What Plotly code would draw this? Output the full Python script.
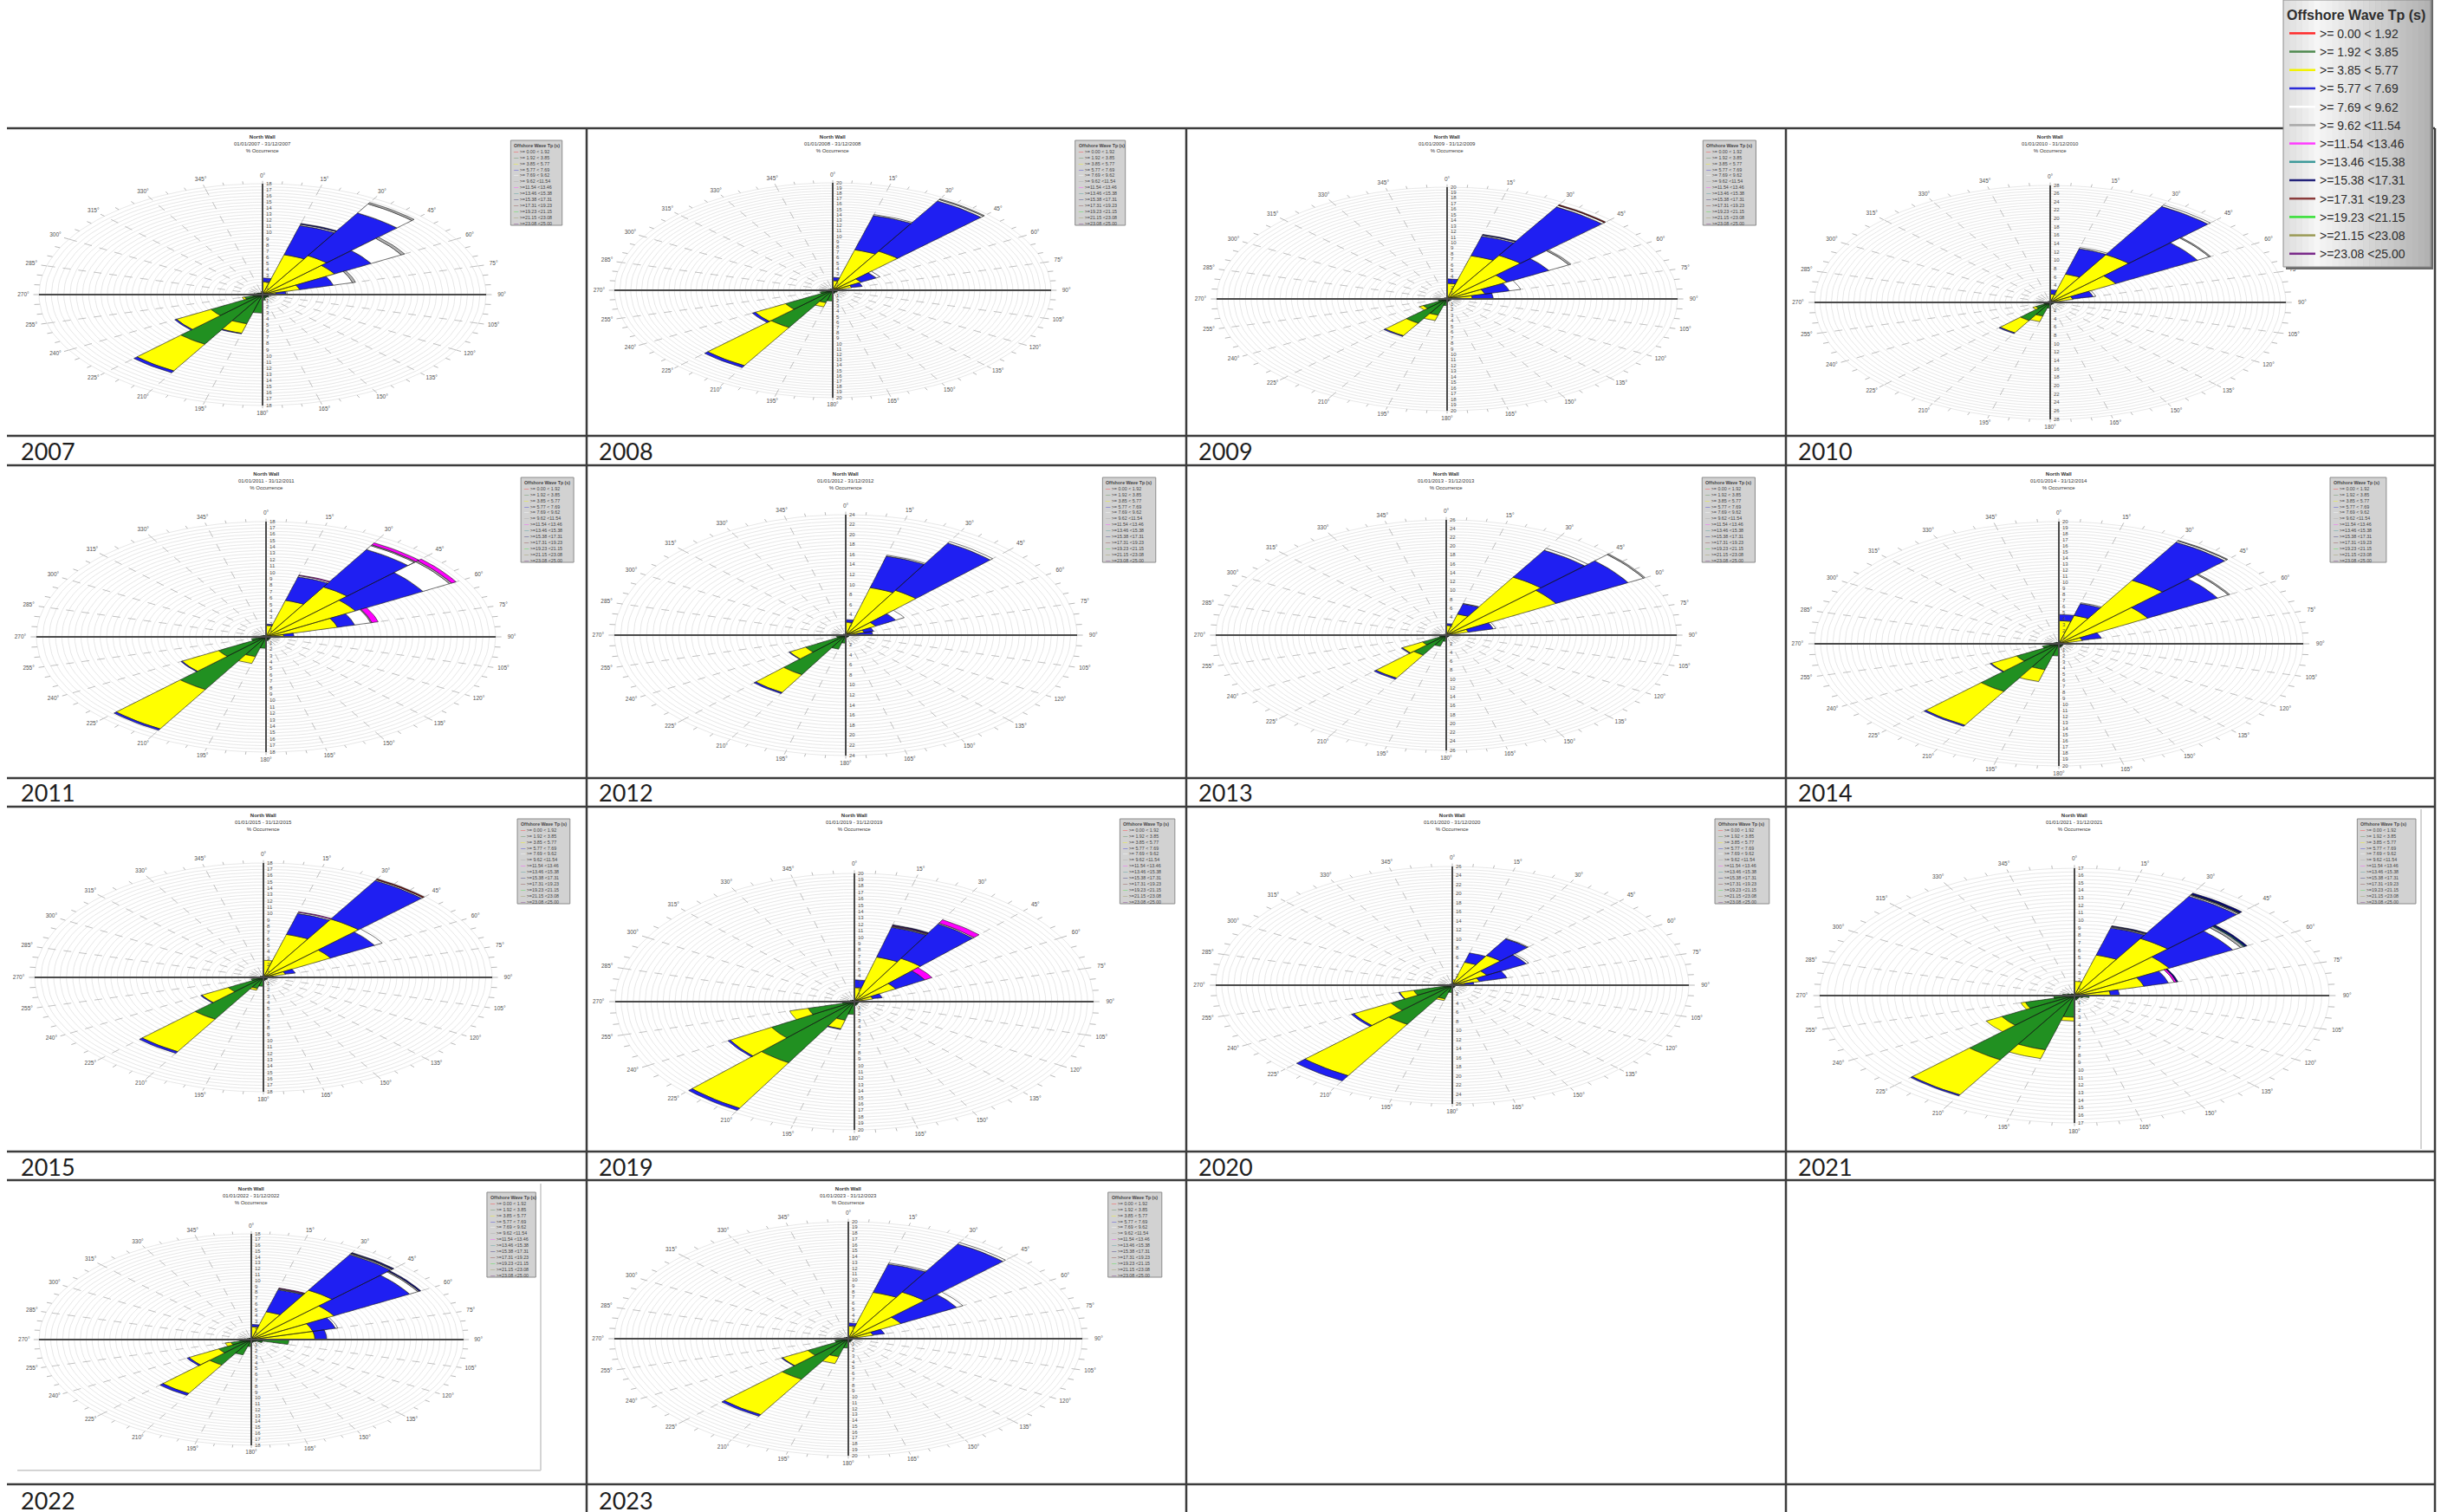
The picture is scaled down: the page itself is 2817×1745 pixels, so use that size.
import numpy as np
import plotly.graph_objects as go

W, H = 2817, 1745

# ---------------------------------------------------------------- Tp classes
TP_LABELS = [">= 0.00 &lt; 1.92", ">= 1.92 &lt; 3.85", ">= 3.85 &lt; 5.77", ">= 5.77 &lt; 7.69",
             ">= 7.69 &lt; 9.62", ">= 9.62 &lt;11.54", ">=11.54 &lt;13.46", ">=13.46 &lt;15.38",
             ">=15.38 &lt;17.31", ">=17.31 &lt;19.23", ">=19.23 &lt;21.15", ">=21.15 &lt;23.08",
             ">=23.08 &lt;25.00"]
TP_LINE = ["#ff2a2a", "#4f8a4f", "#f2f200", "#2a2ad8", "#ffffff", "#a8a8a8", "#ff3cff",
           "#3d9a9a", "#23237a", "#8a3c3c", "#35e035", "#9a9a55", "#7a2a8a"]
TP_FILL = ["#ff0000", "#219021", "#ffff00", "#1f1ff2", "#ffffff", "#b4b4b4", "#ff00ff",
           "#008080", "#000080", "#800000", "#00ff00", "#808000", "#800080"]

# 24 direction sectors (deg from north), 15 deg wide
SECTORS = [7.5 + 15 * k for k in range(24)]

# ---------------------------------------------------------------- % occurrence per sector, by Tp class index
ROSE_2007 = {
    1: [.3, .3, .3, .3, .2, .2, .4, .5, .6, .5, .6, .9, 3.0, 4.9, 9.3, 4.8, 1.5, .8, .7, .5, .4, .3, .3, .3],
    2: [1.8, 6.4, 7.0, 6.4, 2.9, .9, .3, 0, 0, 0, 0, 0, 0, 1.6, 5.0, 3.2, .2, 0, 0, 0, 0, 0, 0, .2],
    3: [.6, 4.9, 8.0, 3.4, 2.8, .8, 0, 0, 0, 0, 0, 0, 0, .1, .35, .15, 0, 0, 0, 0, 0, 0, 0, 0],
    4: [0, .2, 1.7, 2.8, 1.6, .1, 0, 0, 0, 0, 0, 0, 0, 0, 0, 0, 0, 0, 0, 0, 0, 0, 0, 0],
    5: [0, 0, .25, .3, .25, 0, 0, 0, 0, 0, 0, 0, 0, 0, 0, 0, 0, 0, 0, 0, 0, 0, 0, 0],
    8: [0, .15, 0, 0, 0, 0, 0, 0, 0, 0, 0, 0, 0, 0, 0, 0, 0, 0, 0, 0, 0, 0, 0, 0],
}
ROSE_2008 = {
    1: [.2, .2, .2, .2, .2, .2, .3, .4, .5, .4, .5, .6, 2.0, 2.4, 8.0, 5.0, 1.2, .6, .5, .4, .3, .3, .2, .2],
    2: [1.6, 7.6, 8.2, 2.8, 1.6, .5, 0, 0, 0, 0, 0, 0, 0, .8, 8.2, 3.2, 0, 0, 0, 0, 0, 0, 0, 0],
    3: [.6, 6.6, 10.8, 1.6, 1.0, 0, 0, 0, 0, 0, 0, 0, 0, 0, .4, .3, 0, 0, 0, 0, 0, 0, 0, 0],
    4: [0, .2, .3, .4, 0, 0, 0, 0, 0, 0, 0, 0, 0, 0, 0, 0, 0, 0, 0, 0, 0, 0, 0, 0],
    5: [0, 0, .15, 0, 0, 0, 0, 0, 0, 0, 0, 0, 0, 0, 0, 0, 0, 0, 0, 0, 0, 0, 0, 0],
}
ROSE_2009 = {
    1: [.2, .2, .2, .2, .2, .2, .3, .3, .4, .3, .4, .5, 1.2, 3.0, 5.0, 2.4, .8, .5, .4, .3, .3, .2, .2, .2],
    2: [2.6, 7.8, 8.8, 5.8, 3.2, 2.0, 0, 0, 0, 0, 0, 0, 0, 1.0, 2.6, .4, 0, 0, 0, 0, 0, 0, 0, 0],
    3: [.8, 3.6, 10.0, 4.2, 2.2, 1.8, 0, 0, 0, 0, 0, 0, 0, 0, .15, 0, 0, 0, 0, 0, 0, 0, 0, 0],
    4: [0, .2, .3, 2.0, 1.0, 0, 0, 0, 0, 0, 0, 0, 0, 0, 0, 0, 0, 0, 0, 0, 0, 0, 0, 0],
    5: [0, 0, 0, .2, 0, 0, 0, 0, 0, 0, 0, 0, 0, 0, 0, 0, 0, 0, 0, 0, 0, 0, 0, 0],
    8: [0, .15, 0, 0, 0, 0, 0, 0, 0, 0, 0, 0, 0, 0, 0, 0, 0, 0, 0, 0, 0, 0, 0, 0],
    9: [0, 0, .15, 0, 0, 0, 0, 0, 0, 0, 0, 0, 0, 0, 0, 0, 0, 0, 0, 0, 0, 0, 0, 0],
}
ROSE_2010 = {
    1: [.2, .3, .3, .3, .2, .3, .4, .4, .5, .4, .5, .6, 1.4, 3.4, 5.0, 2.0, .8, .5, .4, .4, .3, .3, .2, .2],
    2: [1.8, 6.7, 12.9, 8.7, 2.6, .6, 0, 0, 0, 0, 0, 0, 0, 1.4, 3.4, .4, 0, 0, 0, 0, 0, 0, 0, 0],
    3: [1.0, 6.3, 13.3, 11.2, 2.5, 0, 0, 0, 0, 0, 0, 0, 0, 0, .2, 0, 0, 0, 0, 0, 0, 0, 0, 0],
    4: [0, .3, .4, 1.6, .3, 0, 0, 0, 0, 0, 0, 0, 0, 0, 0, 0, 0, 0, 0, 0, 0, 0, 0, 0],
    5: [0, 0, 0, .2, 0, 0, 0, 0, 0, 0, 0, 0, 0, 0, 0, 0, 0, 0, 0, 0, 0, 0, 0, 0],
}
ROSE_2011 = {
    1: [.2, .2, .2, .2, .2, .2, .3, .4, .4, .4, .5, .6, 1.8, 3.2, 9.5, 4.3, 1.2, .6, .5, .4, .3, .3, .2, .2],
    2: [1.6, 5.7, 8.8, 7.9, 5.6, 1.2, 0, 0, 0, 0, 0, 0, 0, 1.1, 7.1, 3.3, 0, 0, 0, 0, 0, 0, 0, 0],
    3: [.2, 3.8, 6.75, 6.1, 1.4, .8, 0, 0, 0, 0, 0, 0, 0, 0, .25, .1, 0, 0, 0, 0, 0, 0, 0, 0],
    4: [0, .2, .7, 2.4, 1.3, 0, 0, 0, 0, 0, 0, 0, 0, 0, 0, 0, 0, 0, 0, 0, 0, 0, 0, 0],
    5: [0, 0, .15, .2, .1, 0, 0, 0, 0, 0, 0, 0, 0, 0, 0, 0, 0, 0, 0, 0, 0, 0, 0, 0],
    6: [0, .1, .35, .4, .5, 0, 0, 0, 0, 0, 0, 0, 0, 0, 0, 0, 0, 0, 0, 0, 0, 0, 0, 0],
}
ROSE_2012 = {
    1: [.2, .2, .2, .2, .2, .2, .3, .3, .4, .4, .4, .5, 1.6, 2.9, 9.1, 4.8, 1.0, .5, .4, .3, .3, .2, .2, .2],
    2: [2.4, 9.6, 10.1, 3.4, 1.8, 1.0, 0, 0, 0, 0, 0, 0, 0, 0, 4.1, 1.9, 0, 0, 0, 0, 0, 0, 0, 0],
    3: [.5, 6.5, 10.9, 2.4, 1.0, 1.6, 0, 0, 0, 0, 0, 0, 0, 0, .25, .1, 0, 0, 0, 0, 0, 0, 0, 0],
    4: [0, .2, .35, 1.0, 0, 0, 0, 0, 0, 0, 0, 0, 0, 0, 0, 0, 0, 0, 0, 0, 0, 0, 0, 0],
}
ROSE_2013 = {
    1: [.2, .2, .3, .3, .2, .2, .3, .3, .4, .4, .4, .5, 1.4, 2.6, 5.2, 3.1, .8, .5, .4, .3, .3, .2, .2, .2],
    2: [2.0, 4.7, 14.8, 14.0, 2.4, .6, 0, 0, 0, 0, 0, 0, 0, 0, 6.0, 2.6, 0, 0, 0, 0, 0, 0, 0, 0],
    3: [.4, 2.4, 7.0, 9.4, 2.9, 0, 0, 0, 0, 0, 0, 0, 0, 0, .3, .15, 0, 0, 0, 0, 0, 0, 0, 0],
    4: [0, .1, .5, 2.0, .3, 0, 0, 0, 0, 0, 0, 0, 0, 0, 0, 0, 0, 0, 0, 0, 0, 0, 0, 0],
    5: [0, 0, 0, .2, 0, 0, 0, 0, 0, 0, 0, 0, 0, 0, 0, 0, 0, 0, 0, 0, 0, 0, 0, 0],
}
ROSE_2014 = {
    1: [.2, .2, .2, .2, .2, .2, .3, .4, .4, .4, .5, .6, 2.0, 4.4, 9.0, 4.0, 1.4, .8, .5, .4, .3, .3, .2, .2],
    2: [3.6, 4.6, 11.8, 8.2, 1.8, .6, 0, 0, 0, 0, 0, 0, 0, 2.0, 6.4, 2.4, 0, 0, 0, 0, 0, 0, 0, 0],
    3: [1.0, 2.0, 7.2, 6.6, 1.6, 0, 0, 0, 0, 0, 0, 0, 0, 0, .2, .1, 0, 0, 0, 0, 0, 0, 0, 0],
    4: [0, .15, .25, 1.0, 0, 0, 0, 0, 0, 0, 0, 0, 0, 0, 0, 0, 0, 0, 0, 0, 0, 0, 0, 0],
    5: [0, 0, .1, .15, 0, 0, 0, 0, 0, 0, 0, 0, 0, 0, 0, 0, 0, 0, 0, 0, 0, 0, 0, 0],
}
ROSE_2015 = {
    1: [.2, .2, .2, .2, .2, .2, .3, .3, .4, .4, .4, .5, 1.4, 1.8, 7.6, 3.2, 1.0, .5, .4, .3, .3, .2, .2, .2],
    2: [2.5, 6.8, 10.4, 5.9, 1.6, .6, 0, 0, 0, 0, 0, 0, 0, .3, 5.9, 2.4, 0, 0, 0, 0, 0, 0, 0, 0],
    3: [0, 3.4, 7.0, 4.0, .8, 0, 0, 0, 0, 0, 0, 0, 0, 0, .3, .1, 0, 0, 0, 0, 0, 0, 0, 0],
    4: [0, .2, .15, .7, 0, 0, 0, 0, 0, 0, 0, 0, 0, 0, 0, 0, 0, 0, 0, 0, 0, 0, 0, 0],
    6: [0, .1, 0, 0, 0, 0, 0, 0, 0, 0, 0, 0, 0, 0, 0, 0, 0, 0, 0, 0, 0, 0, 0, 0],
    9: [0, 0, .15, 0, 0, 0, 0, 0, 0, 0, 0, 0, 0, 0, 0, 0, 0, 0, 0, 0, 0, 0, 0, 0],
}
ROSE_2019 = {
    1: [.2, .2, .2, .2, .2, .2, .3, .4, .4, .4, .5, .6, 2.0, 3.0, 11.0, 8.0, 4.0, 1.0, .6, .4, .3, .3, .2, .2],
    2: [2.0, 7.0, 7.6, 3.8, 1.4, .5, 0, 0, 0, 0, 0, 0, 0, 1.4, 8.2, 4.0, 1.6, 0, 0, 0, 0, 0, 0, 0],
    3: [1.2, 4.8, 6.2, 2.8, .8, 0, 0, 0, 0, 0, 0, 0, 0, .1, .4, .2, 0, 0, 0, 0, 0, 0, 0, 0],
    4: [0, .1, .15, 0, 0, 0, 0, 0, 0, 0, 0, 0, 0, 0, 0, 0, 0, 0, 0, 0, 0, 0, 0, 0],
    5: [0, .1, 0, 0, 0, 0, 0, 0, 0, 0, 0, 0, 0, 0, 0, 0, 0, 0, 0, 0, 0, 0, 0, 0],
    6: [0, .1, .6, .7, 0, 0, 0, 0, 0, 0, 0, 0, 0, 0, 0, 0, 0, 0, 0, 0, 0, 0, 0, 0],
    8: [0, .1, 0, 0, 0, 0, 0, 0, 0, 0, 0, 0, 0, 0, 0, 0, 0, 0, 0, 0, 0, 0, 0, 0],
}
ROSE_2020 = {
    1: [.2, .2, .2, .2, .2, .2, .3, .4, .4, .4, .5, .6, 1.6, 3.1, 9.9, 7.8, 4.4, 1.0, .6, .4, .3, .3, .2, .2],
    2: [1.0, 5.0, 7.3, 4.2, 2.9, 1.2, 0, 0, 0, 0, 0, 0, 0, .4, 13.0, 4.7, 1.6, 0, 0, 0, 0, 0, 0, 0],
    3: [0, 2.1, 4.2, 5.0, 3.1, 1.0, 0, 0, 0, 0, 0, 0, 0, 0, 1.3, .3, .1, 0, 0, 0, 0, 0, 0, 0],
    4: [0, 0, .1, .3, 0, 0, 0, 0, 0, 0, 0, 0, 0, 0, 0, 0, 0, 0, 0, 0, 0, 0, 0, 0],
}
ROSE_2021 = {
    1: [.2, .2, .2, .2, .2, .2, 1.0, .6, .4, .4, .5, .6, 2.9, 7.5, 9.9, 5.6, 3.4, 1.4, .8, .5, .3, .3, .2, .2],
    2: [1.7, 5.4, 8.6, 7.1, 4.6, 2.2, 0, 0, 0, 0, 0, 0, .5, 1.2, 5.4, 1.2, .3, 0, 0, 0, 0, 0, 0, 0],
    3: [0, 3.75, 6.5, 4.9, 1.7, .6, 0, 0, 0, 0, 0, 0, 0, 0, .15, 0, 0, 0, 0, 0, 0, 0, 0, 0],
    4: [0, .1, .15, .6, .4, 0, 0, 0, 0, 0, 0, 0, 0, 0, 0, 0, 0, 0, 0, 0, 0, 0, 0, 0],
    5: [0, .1, .1, .25, 0, 0, 0, 0, 0, 0, 0, 0, 0, 0, 0, 0, 0, 0, 0, 0, 0, 0, 0, 0],
    6: [0, 0, 0, 0, .15, 0, 0, 0, 0, 0, 0, 0, 0, 0, 0, 0, 0, 0, 0, 0, 0, 0, 0, 0],
    7: [0, 0, .05, .1, 0, 0, 0, 0, 0, 0, 0, 0, 0, 0, 0, 0, 0, 0, 0, 0, 0, 0, 0, 0],
    8: [0, .1, .2, .15, .1, 0, 0, 0, 0, 0, 0, 0, 0, 0, 0, 0, 0, 0, 0, 0, 0, 0, 0, 0],
}
ROSE_2022 = {
    1: [.2, .2, .2, .2, .2, .3, 3.2, 1.0, .5, .4, .4, .5, 1.2, 2.7, 5.0, 3.2, 1.8, 1.0, .6, .4, .3, .3, .2, .2],
    2: [2.0, 4.7, 9.5, 7.9, 5.2, 5.1, 0, 0, 0, 0, 0, 0, 0, 0, 5.6, 2.9, .5, 0, 0, 0, 0, 0, 0, 0],
    3: [.4, 3.9, 7.0, 7.4, 2.0, 1.0, 0, 0, 0, 0, 0, 0, 0, 0, .35, .2, 0, 0, 0, 0, 0, 0, 0, 0],
    4: [0, .1, .15, .8, .2, 0, 0, 0, 0, 0, 0, 0, 0, 0, 0, 0, 0, 0, 0, 0, 0, 0, 0, 0],
    5: [0, .1, .1, .15, 0, 0, 0, 0, 0, 0, 0, 0, 0, 0, 0, 0, 0, 0, 0, 0, 0, 0, 0, 0],
    6: [0, .1, 0, 0, 0, 0, 0, 0, 0, 0, 0, 0, 0, 0, 0, 0, 0, 0, 0, 0, 0, 0, 0, 0],
    8: [0, 0, .15, .15, 0, 0, 0, 0, 0, 0, 0, 0, 0, 0, 0, 0, 0, 0, 0, 0, 0, 0, 0, 0],
}
ROSE_2023 = {
    1: [.2, .2, .2, .2, .2, .2, .3, .4, .4, .4, .5, .6, 1.6, 3.2, 8.0, 4.0, 1.2, .6, .5, .4, .3, .3, .2, .2],
    2: [2.0, 8.0, 9.0, 5.0, 2.0, .6, 0, 0, 0, 0, 0, 0, 0, 1.2, 7.0, 2.5, 0, 0, 0, 0, 0, 0, 0, 0],
    3: [.5, 5.0, 9.5, 5.5, 1.0, 0, 0, 0, 0, 0, 0, 0, 0, 0, .3, .1, 0, 0, 0, 0, 0, 0, 0, 0],
    4: [0, .2, .3, .6, 0, 0, 0, 0, 0, 0, 0, 0, 0, 0, 0, 0, 0, 0, 0, 0, 0, 0, 0, 0],
}

YEARS = [2007, 2008, 2009, 2010, 2011, 2012, 2013, 2014, 2015, 2019, 2020, 2021, 2022, 2023]
ROSES = [ROSE_2007, ROSE_2008, ROSE_2009, ROSE_2010, ROSE_2011, ROSE_2012, ROSE_2013,
         ROSE_2014, ROSE_2015, ROSE_2019, ROSE_2020, ROSE_2021, ROSE_2022, ROSE_2023]
RADIAL_MAX = [18, 20, 20, 28, 18, 24, 26, 20, 18, 20, 26, 17, 18, 20]
DATE_RANGES = ["01/01/2007 - 31/12/2007", "01/01/2008 - 31/12/2008", "01/01/2009 - 31/12/2009",
               "01/01/2010 - 31/12/2010", "01/01/2011 - 31/12/2011", "01/01/2012 - 31/12/2012",
               "01/01/2013 - 31/12/2013", "01/01/2014 - 31/12/2014", "01/01/2015 - 31/12/2015",
               "01/01/2019 - 31/12/2019", "01/01/2020 - 31/12/2020", "01/01/2021 - 31/12/2021",
               "01/01/2022 - 31/12/2022", "01/01/2023 - 31/12/2023"]

# ---------------------------------------------------------------- page layout (pixels)
COLS = [(8, 677), (677, 1369), (1369, 2061), (2061, 2810)]
ROWS = [(148, 503), (537, 898), (931, 1329), (1362, 1713)]
LABEL_ROWS = [520, 915, 1346, 1731]
# ellipse centre / half-axes of each rose, pixels
ROSE_BOX = [(303, 340, 258, 128), (961, 335, 252, 124), (1670, 345, 266, 129), (2366, 349, 272, 135),
            (307, 735, 265, 133), (976, 733, 267, 139), (1669, 733, 266, 133), (2376, 743, 282, 141),
            (304, 1128, 264, 132), (986, 1156, 276, 148), (1676, 1137, 273, 137), (2394, 1149, 294, 147),
            (290, 1546, 245, 122), (979, 1545, 270, 135)]

FONT = "Liberation Sans"


def px_x(p):
    return p / W


def px_y(p):
    return 1 - p / H


def wedge(a_mid, r0, r1, half=7.5, n=7):
    a = np.radians(np.linspace(a_mid - half, a_mid + half, n))
    xo, yo = r1 * np.sin(a), r1 * np.cos(a)
    xi, yi = r0 * np.sin(a[::-1]), r0 * np.cos(a[::-1])
    return (list(xo) + list(xi) + [xo[0], None],
            list(yo) + list(yi) + [yo[0], None])


fig = go.Figure()
layout_axes = {}
annotations = []
shapes = []

for i, (year, rose, M) in enumerate(zip(YEARS, ROSES, RADIAL_MAX)):
    n = i + 1
    xa = "x" if n == 1 else f"x{n}"
    ya = "y" if n == 1 else f"y{n}"
    col, row = i % 4, i // 4
    left, right = COLS[col]
    top, bottom = ROWS[row]
    cx, cy, rx, ry = ROSE_BOX[i]
    left_d, right_d, top_d, bottom_d = left + 2, right - 2, top + 2, bottom - 2
    layout_axes[f"xaxis{'' if n == 1 else n}"] = dict(
        domain=[px_x(left_d), px_x(right_d)],
        range=[(left_d - cx) / rx * M, (right_d - cx) / rx * M],
        visible=False, fixedrange=True, anchor=ya)
    layout_axes[f"yaxis{'' if n == 1 else n}"] = dict(
        domain=[px_y(bottom_d), px_y(top_d)],
        range=[(cy - bottom_d) / ry * M, (cy - top_d) / ry * M],
        visible=False, fixedrange=True, anchor=xa)

    lab_step = 1 if M <= 20 else 2
    ring_step = 0.5 if M <= 20 else 2 / 3

    # concentric rings
    t = np.radians(np.arange(0, 361, 3))
    rx_l, ry_l = [], []
    for r in np.arange(ring_step, M + 1e-6, ring_step):
        rx_l += list(r * np.sin(t)) + [None]
        ry_l += list(r * np.cos(t)) + [None]
    fig.add_trace(go.Scatter(x=rx_l, y=ry_l, mode="lines", xaxis=xa, yaxis=ya,
                             line=dict(color="#d6d6d6", width=0.6),
                             hoverinfo="skip", showlegend=False))

    # direction spokes and outer ticks
    sx, sy = [], []
    for a in range(0, 360, 15):
        ar = np.radians(a)
        sx += [0.03 * M * np.sin(ar), M * np.sin(ar), None]
        sy += [0.03 * M * np.cos(ar), M * np.cos(ar), None]
    fig.add_trace(go.Scatter(x=sx, y=sy, mode="lines", xaxis=xa, yaxis=ya,
                             line=dict(color="#a6a6a6", width=0.7, dash="dash"),
                             hoverinfo="skip", showlegend=False))
    tx, ty = [], []
    for a in range(0, 360, 5):
        ar = np.radians(a)
        tx += [M * np.sin(ar), 1.025 * M * np.sin(ar), None]
        ty += [M * np.cos(ar), 1.025 * M * np.cos(ar), None]
    fig.add_trace(go.Scatter(x=tx, y=ty, mode="lines", xaxis=xa, yaxis=ya,
                             line=dict(color="#9a9a9a", width=0.7),
                             hoverinfo="skip", showlegend=False))

    # stacked wedges
    cum = np.zeros(24)
    for c in sorted(rose):
        vals = rose[c]
        px_, py_ = [], []
        for k, v in enumerate(vals):
            if v > 0:
                xs, ys = wedge(SECTORS[k], cum[k], cum[k] + v)
                px_ += xs
                py_ += ys
                cum[k] += v
        fig.add_trace(go.Scatter(x=px_, y=py_, mode="lines", fill="toself", xaxis=xa, yaxis=ya,
                                 fillcolor=TP_FILL[c], line=dict(color="#151515", width=0.6),
                                 name=TP_LABELS[c], hoverinfo="skip", showlegend=False))

    # main N-S / E-W axes
    fig.add_trace(go.Scatter(x=[-M, M, None, 0, 0], y=[0, 0, None, -M, M], mode="lines",
                             xaxis=xa, yaxis=ya, line=dict(color="#4a4a4a", width=2),
                             hoverinfo="skip", showlegend=False))

    # radial labels along the vertical axis
    vals_r = list(range(lab_step, M + 1, lab_step))
    off = 4 / rx * M
    fig.add_trace(go.Scatter(x=[off] * (2 * len(vals_r)), y=vals_r + [-v for v in vals_r],
                             mode="text", text=[str(v) for v in vals_r] * 2,
                             textposition="middle right", xaxis=xa, yaxis=ya,
                             textfont=dict(family=FONT, size=6, color="#505050"),
                             hoverinfo="skip", showlegend=False))

    # direction labels
    angs = list(range(0, 360, 15))
    fig.add_trace(go.Scatter(x=[1.07 * M * np.sin(np.radians(a)) for a in angs],
                             y=[1.07 * M * np.cos(np.radians(a)) for a in angs],
                             mode="text", text=[f"{a}°" for a in angs], xaxis=xa, yaxis=ya,
                             textfont=dict(family=FONT, size=6.5, color="#505050"),
                             hoverinfo="skip", showlegend=False))

    # rose heading
    annotations.append(dict(
        x=px_x(cx), y=px_y(top + 5), xref="paper", yref="paper", xanchor="center", yanchor="top",
        text=f"<b>North Wall</b><br>{DATE_RANGES[i]}<br>% Occurrence", showarrow=False,
        font=dict(family=FONT, size=6, color="#333333")))

    # small per-rose legend box (hidden under the main legend for the top-right rose)
    if year != 2010:
        bx0, bx1 = cx + 1.11 * rx, cx + 1.34 * rx
        by0, by1 = top + 14, top + 112
        shapes.append(dict(type="rect", xref="paper", yref="paper",
                           x0=px_x(bx0), x1=px_x(bx1), y0=px_y(by1), y1=px_y(by0),
                           fillcolor="#d2d2d2", line=dict(color="#8a8a8a", width=1), layer="above"))
        lines = ["<b>Offshore Wave Tp (s)</b>"] + [
            f"<span style='color:{TP_LINE[c]}'>—</span> {TP_LABELS[c]}" for c in range(13)]
        annotations.append(dict(
            x=px_x(bx0 + 2), y=px_y(by0 + 1), xref="paper", yref="paper",
            xanchor="left", yanchor="top", align="left", text="<br>".join(lines),
            showarrow=False, font=dict(family=FONT, size=5.3, color="#444444")))

    # year caption
    annotations.append(dict(
        x=px_x(left + 14 if col == 0 else left + 12), y=px_y(LABEL_ROWS[row]), xref="paper", yref="paper",
        xanchor="left", yanchor="middle", text=str(year), showarrow=False,
        font=dict(family="Lato", size=27, color="#1e1e1e")))

# main legend entries (line samples, one per Tp class)
for c in range(13):
    fig.add_trace(go.Scatter(x=[None], y=[None], mode="lines", name=TP_LABELS[c],
                             line=dict(color=TP_LINE[c], width=2.5), showlegend=True,
                             hoverinfo="skip"))

# table frame
FRAME = "#3c3c3c"
for yline in [148, 503, 537, 898, 931, 1329, 1362, 1713]:
    shapes.append(dict(type="line", xref="paper", yref="paper", x0=px_x(8), x1=px_x(2810),
                       y0=px_y(yline), y1=px_y(yline), line=dict(color=FRAME, width=2.5), layer="above"))
for xline in [677, 1369, 2061, 2810]:
    shapes.append(dict(type="line", xref="paper", yref="paper", x0=px_x(xline), x1=px_x(xline),
                       y0=px_y(148), y1=px_y(1745), line=dict(color=FRAME, width=2.5), layer="above"))
# faint borders of pasted chart images
shapes.append(dict(type="line", xref="paper", yref="paper", x0=px_x(20), x1=px_x(624),
                   y0=px_y(1697), y1=px_y(1697), line=dict(color="#d4d4d4", width=2), layer="above"))
shapes.append(dict(type="line", xref="paper", yref="paper", x0=px_x(624), x1=px_x(624),
                   y0=px_y(1366), y1=px_y(1697), line=dict(color="#d4d4d4", width=2), layer="above"))
shapes.append(dict(type="line", xref="paper", yref="paper", x0=px_x(2794), x1=px_x(2794),
                   y0=px_y(934), y1=px_y(1326), line=dict(color="#d4d4d4", width=2), layer="above"))

# main legend background: metallic gradient panel with shadow
LX0, LX1, LY0, LY1 = 2635, 2805, 0, 308
shapes.append(dict(type="rect", xref="paper", yref="paper", x0=px_x(LX0 + 3), x1=px_x(LX1 + 3),
                   y0=px_y(LY1 + 3), y1=px_y(LY0), fillcolor="#6a6a6a", line=dict(width=0), layer="above"))
nstrip = 24
for s in range(nstrip):
    f = s / (nstrip - 1)
    if f < 0.22:
        g = 222 + (246 - 222) * f / 0.22
    else:
        g = 246 - (246 - 178) * (f - 0.22) / 0.78
    g = int(round(g))
    xa0 = LX0 + (LX1 - LX0) * s / nstrip
    xa1 = LX0 + (LX1 - LX0) * (s + 1) / nstrip + 0.6
    shapes.append(dict(type="rect", xref="paper", yref="paper", x0=px_x(xa0), x1=px_x(xa1),
                       y0=px_y(LY1), y1=px_y(LY0), fillcolor=f"rgb({g},{g},{g})",
                       line=dict(width=0), layer="above"))
shapes.append(dict(type="rect", xref="paper", yref="paper", x0=px_x(LX0), x1=px_x(LX1),
                   y0=px_y(LY1), y1=px_y(LY0), fillcolor="rgba(0,0,0,0)",
                   line=dict(color="#8c8c8c", width=1), layer="above"))

fig.update_layout(
    width=W, height=H,
    margin=dict(l=0, r=0, t=0, b=0),
    paper_bgcolor="white", plot_bgcolor="white",
    annotations=annotations, shapes=shapes,
    legend=dict(x=px_x(LX0 + 2), y=px_y(LY0 + 2), xanchor="left", yanchor="top",
                bgcolor="rgba(0,0,0,0)", borderwidth=0, tracegroupgap=0, itemwidth=30,
                font=dict(family=FONT, size=14, color="#2e2e2e"),
                title=dict(text="<b>Offshore Wave Tp (s)</b>",
                           font=dict(family=FONT, size=16, color="#2e2e2e"))),
    **layout_axes,
)

fig.write_html("out.html")
